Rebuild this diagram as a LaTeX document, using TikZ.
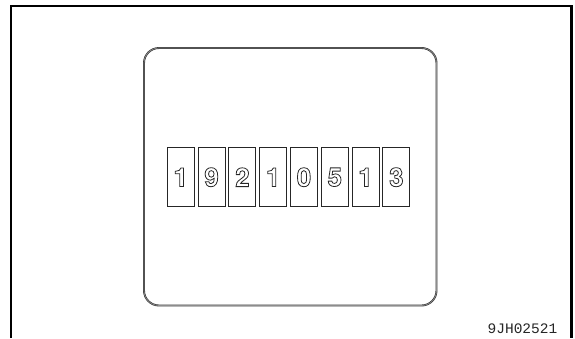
\documentclass[tikz,border=0pt]{standalone}
\usepackage{fontspec}
\setmainfont{Liberation Sans}
\newfontfamily\digf{TeX Gyre Heros}
\newfontfamily\monof{Liberation Mono}
\newcommand{\hollow}[1]{\special{pdf:literal direct 1 Tr 0.8 w}#1\special{pdf:literal direct 0 Tr 1 w}}
\tikzset{
  frameline/.style={line width=2.3pt, black},
  panel/.style={draw=black!80, double=black!45, double distance=0.7pt, line width=0.6pt, rounded corners=15pt},
  digitbox/.style={draw=black!85, line width=0.9pt, minimum width=27pt, minimum height=59pt, inner sep=0pt,
     font=\digf\bfseries\fontsize{26}{26}\selectfont, text=black!85},
  code/.style={font=\monof\fontsize{14.5}{14.5}\selectfont, anchor=base east, inner sep=0pt, text=black!85}
}
\begin{document}
\begin{tikzpicture}[x=1pt,y=-1pt]
\useasboundingbox (0,0) rectangle (575,338);
\coordinate (fa) at (10.7,338);
\coordinate (fb) at (10.7,6.2);
\coordinate (fc) at (571.5,6.2);
\coordinate (fd) at (571.5,338);
\draw[frameline] (fa) -- (fb) -- (fc) -- (fd);
\draw[panel] (144,48) rectangle (436.5,305.5);
\foreach \d [count=\i from 0] in {1,9,2,1,0,5,1,3} {
  \node[digitbox] (b\i) at ({180.8+30.8*\i},177.2) {\hollow{\d}};
}
\node[code] (lbl) at (557.5,333) {9JH02521};
\end{tikzpicture}
\end{document}
